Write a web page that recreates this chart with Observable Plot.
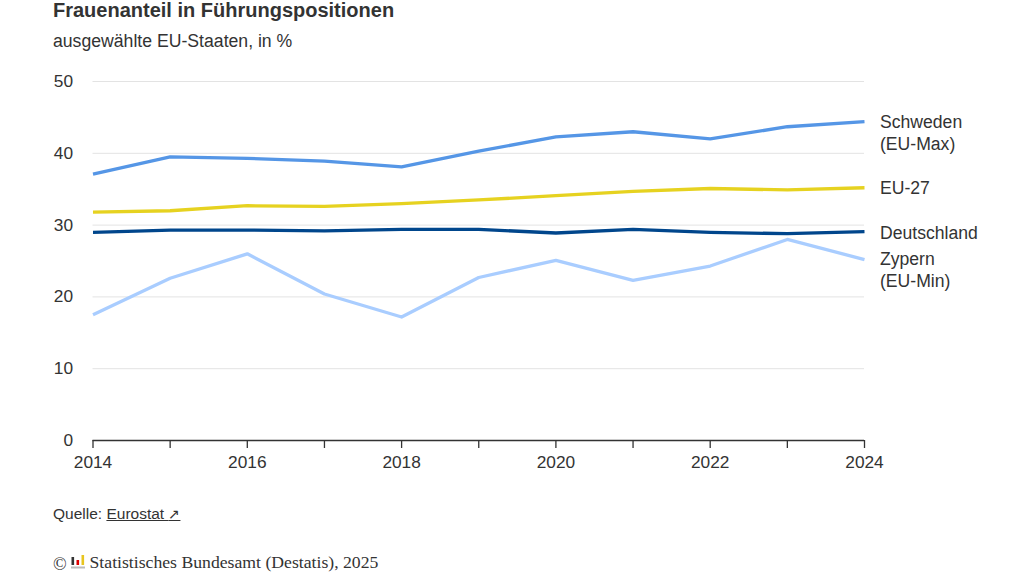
<!DOCTYPE html>
<html lang="de"><head><meta charset="utf-8">
<script src="https://cdn.jsdelivr.net/npm/d3@7"></script>
<script src="https://cdn.jsdelivr.net/npm/@observablehq/plot@0.6"></script>
<style>
html,body{margin:0;padding:0;background:#fff;overflow:hidden}
body{width:1024px;height:576px;position:relative;font-family:"Liberation Sans",Arial,sans-serif;color:#333}
.t{position:absolute;left:53px;white-space:nowrap}
#title{top:-2px;font-size:20px;line-height:24px;font-weight:700}
#sub{top:30px;font-size:17.65px;line-height:22px}
#src{top:505px;font-size:15.5px;line-height:18px}
#src a{color:#333;text-decoration:underline}
#src .arrow{font-size:13.5px}
#copy{top:552px;font-family:"Liberation Serif",serif;font-size:17.7px;line-height:20px}
#chart{position:absolute;left:0;top:60px}
.logo{display:inline-block;vertical-align:-1px;margin:0}
</style></head><body>
<div class="t" id="title">Frauenanteil in Führungspositionen</div>
<div class="t" id="sub">ausgewählte EU-Staaten, in %</div>
<div id="chart"></div>
<div class="t" id="src">Quelle: <a href="#">Eurostat <span class="arrow">↗</span></a></div>
<div class="t" id="copy"><span style="font-size:18px;vertical-align:-2px">©</span> <svg class="logo" width="14" height="14" viewBox="0 0 14 14"><rect x="0.5" y="2" width="2.6" height="8" fill="#333"/><rect x="5.5" y="5" width="2.6" height="5" fill="#d00"/><rect x="10.5" y="0" width="2.6" height="10" fill="#e8c51f"/><rect x="0" y="11.5" width="14" height="2" fill="#bbb"/></svg> Statistisches Bundesamt (Destatis), 2025</div>
<script>
const years=[2014,2015,2016,2017,2018,2019,2020,2021,2022,2023,2024];
const schweden=[37.1,39.5,39.3,38.9,38.1,40.3,42.3,43.0,42.0,43.7,44.4];
const eu27=[31.8,32.0,32.7,32.6,33.0,33.5,34.1,34.7,35.1,34.9,35.2];
const deutschland=[29.0,29.3,29.3,29.2,29.4,29.4,28.9,29.4,29.0,28.8,29.1];
const zypern=[17.5,22.6,26.0,20.4,17.2,22.7,25.1,22.3,24.3,28.0,25.2];
const yTicks=[0,10,20,30,40,50];
const gridTicks=[10,20,30,40,50];
const seriesInfo=[
 {values:zypern,color:"#a9cdff"},
 {values:schweden,color:"#5596e6"},
 {values:eu27,color:"#e6d220"},
 {values:deutschland,color:"#00468c"}
];
const labels=["Schweden\n(EU-Max)","EU-27","Deutschland","Zypern\n(EU-Min)"];
const labelY=[42.97,35.33,29.05,23.85];
const lineMarks=seriesInfo.map(s=>Plot.line(years.map((y,i)=>({x:y,y:s.values[i]})),{x:"x",y:"y",stroke:s.color,strokeWidth:3.3,curve:"linear",strokeLinejoin:"round",strokeLinecap:"butt"}));
const fig=Plot.plot({
 width:1024,height:420,marginTop:21,marginBottom:40,marginLeft:92.5,marginRight:160,
 style:{fontFamily:'"Liberation Sans",Arial,sans-serif',fontSize:"17.3px",color:"#333",background:"transparent",overflow:"visible"},
 x:{domain:[2014,2024],label:null},
 y:{domain:[0,50],label:null},
 marks:[
  Plot.ruleY(gridTicks,{stroke:"#e3e3e3",strokeWidth:1}),
  Plot.axisY({ticks:yTicks,tickSize:0,tickPadding:20,label:null,fontSize:17.3,fill:"#333"}),
  ...lineMarks,
  Plot.ruleY([0],{stroke:"#333",strokeWidth:1.3}),
  Plot.axisX({ticks:years,tickSize:8,tickPadding:7,tickFormat:d=>d%2===0?String(d):"",label:null,fontSize:17.3,stroke:"#333",strokeOpacity:1,strokeWidth:1.3,fill:"#333"}),
  Plot.text(labels,{x:()=>2024,y:(d,i)=>labelY[i],text:d=>d,textAnchor:"start",dx:15.5,fontSize:17.6,lineHeight:1.22,fill:"#333"})
 ]
});
document.getElementById("chart").appendChild(fig);
</script></body></html>
